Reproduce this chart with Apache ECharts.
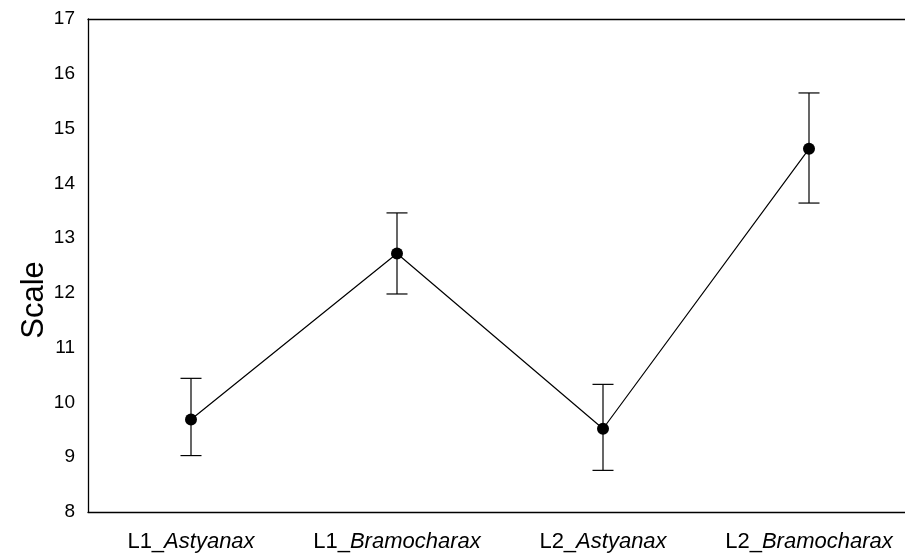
<!DOCTYPE html>
<html>
<head>
<meta charset="utf-8">
<script src="https://cdn.jsdelivr.net/npm/echarts@6/dist/echarts.min.js"></script>
<style>html,body{margin:0;padding:0;background:#fff;}#c{width:905px;height:554px;}</style>
</head>
<body>
<div id="c"></div>
<script>
var categoryPrefix = ['L1_', 'L1_', 'L2_', 'L2_'];
var categoryGenus = ['Astyanax', 'Bramocharax', 'Astyanax', 'Bramocharax'];
var categories = ['L1_Astyanax', 'L1_Bramocharax', 'L2_Astyanax', 'L2_Bramocharax'];
var means = [9.69, 12.72, 9.52, 14.63];
var lower = [9.03, 11.98, 8.76, 13.64];
var upper = [10.44, 13.46, 10.33, 15.65];
var yTicks = [8, 9, 10, 11, 12, 13, 14, 15, 16, 17];
var yTitle = 'Scale';

var chart = echarts.init(document.getElementById('c'));
var font = 'Liberation Sans, Arial, sans-serif';
var errData = categories.map(function (c, i) { return [i, lower[i], upper[i]]; });

chart.setOption({
  animation: false,
  backgroundColor: '#fff',
  grid: { left: 88, top: 19, height: 493, width: 824, outerBoundsMode: 'none', containLabel: false },
  graphic: [{
    type: 'text',
    x: 34,
    y: 300,
    rotation: Math.PI / 2,
    style: { text: yTitle, fontFamily: font, fontSize: 31, fill: '#000', align: 'center', verticalAlign: 'middle' }
  }],
  xAxis: [{
    type: 'category',
    data: categories,
    boundaryGap: true,
    position: 'bottom',
    axisLine: { lineStyle: { color: '#000', width: 1.3 } },
    axisTick: { inside: true, alignWithLabel: true, length: 4, lineStyle: { color: '#000' } },
    axisLabel: {
      margin: 19,
      formatter: function (v, i) { return '{n|' + categoryPrefix[i] + '}{i|' + categoryGenus[i] + '}'; },
      rich: {
        n: { fontFamily: font, fontSize: 22, color: '#000' },
        i: { fontFamily: font, fontSize: 22, fontStyle: 'italic', color: '#000' }
      }
    },
    splitLine: { show: false }
  }, {
    type: 'category',
    data: categories,
    boundaryGap: true,
    position: 'top',
    axisLine: { lineStyle: { color: '#000', width: 1.3 } },
    axisTick: { inside: true, alignWithLabel: true, length: 4, lineStyle: { color: '#000' } },
    axisLabel: { show: false },
    splitLine: { show: false }
  }],
  yAxis: {
    type: 'value',
    min: yTicks[0],
    max: yTicks[yTicks.length - 1],
    interval: 1,
    axisLine: { show: true, lineStyle: { color: '#000', width: 1.3 } },
    axisTick: { inside: true, length: 4, lineStyle: { color: '#000' } },
    axisLabel: { fontFamily: font, fontSize: 19, color: '#000', margin: 13 },
    splitLine: { show: false }
  },
  series: [{
    type: 'custom',
    data: errData,
    z: 2,
    renderItem: function (params, api) {
      var x = api.value(0);
      var lo = api.coord([x, api.value(1)]);
      var hi = api.coord([x, api.value(2)]);
      var hw = 10.5;
      var st = { stroke: '#000', lineWidth: 1.2 };
      return {
        type: 'group',
        children: [
          { type: 'line', shape: { x1: lo[0], y1: lo[1], x2: hi[0], y2: hi[1] }, style: st },
          { type: 'line', shape: { x1: lo[0] - hw, y1: lo[1], x2: lo[0] + hw, y2: lo[1] }, style: st },
          { type: 'line', shape: { x1: hi[0] - hw, y1: hi[1], x2: hi[0] + hw, y2: hi[1] }, style: st }
        ]
      };
    }
  }, {
    type: 'line',
    data: means,
    z: 3,
    symbol: 'circle',
    symbolSize: 12,
    itemStyle: { color: '#000' },
    lineStyle: { color: '#000', width: 1.2 }
  }]
});
</script>
</body>
</html>
